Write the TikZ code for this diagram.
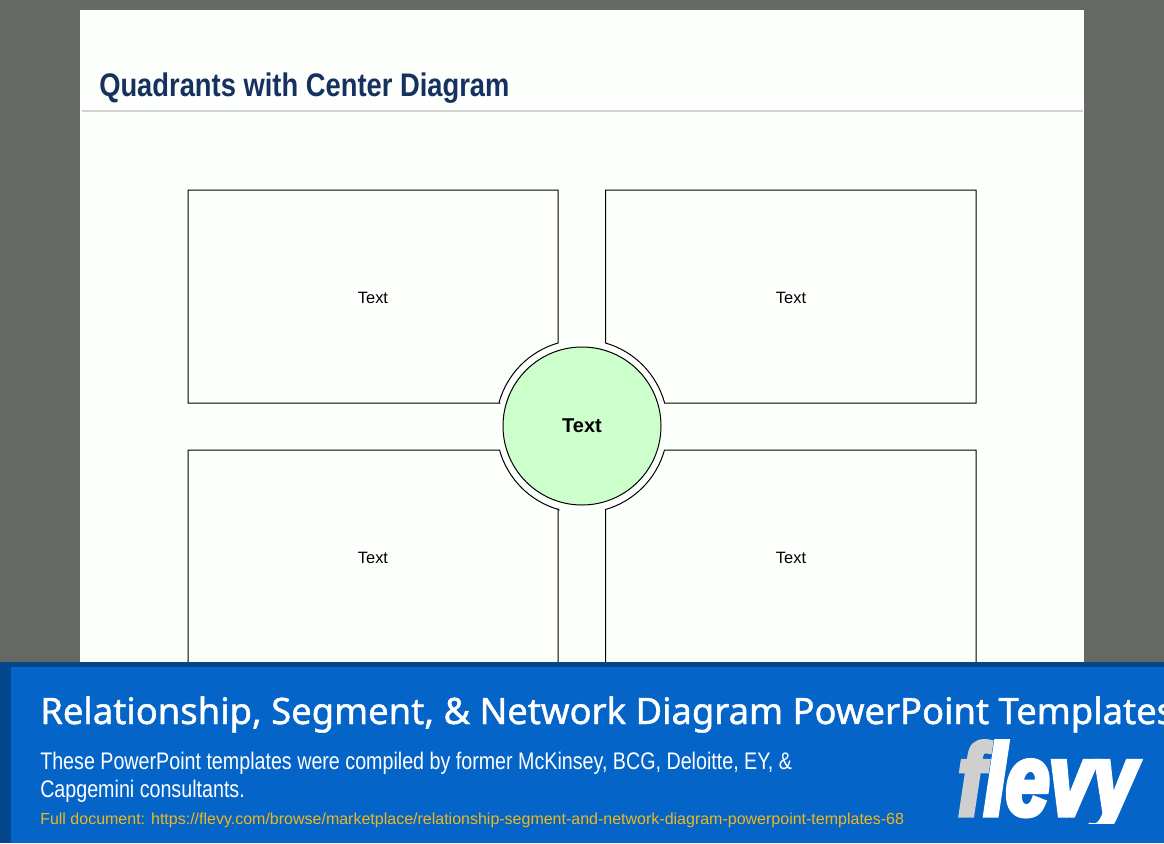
\documentclass[tikz,border=0pt]{standalone}
\usepackage{fontspec}
\setmainfont{Liberation Sans}
\newfontfamily\headfont[FakeStretch=0.837]{Liberation Sans}
\newfontfamily\subfont[FakeStretch=0.82]{Liberation Sans}
\newfontfamily\bannerfont[FakeBold=1.2]{Noto Sans}
\newfontfamily\logofont[FakeBold=5,FakeStretch=0.77]{Liberation Sans}
\definecolor{backgrey}{HTML}{666866}
\definecolor{slidewhite}{HTML}{FDFFFC}
\definecolor{rulegrey}{HTML}{D2D2D2}
\definecolor{titlenavy}{HTML}{14315F}
\definecolor{circlegreen}{HTML}{CCFFCC}
\definecolor{bannerblue}{HTML}{0464C8}
\definecolor{bannerdark}{HTML}{03468C}
\definecolor{linkyellow}{HTML}{EDB81E}
\definecolor{logogrey}{HTML}{CFCFCF}
\tikzset{
  quadbox/.style={draw=black,line width=0.75pt,fill=slidewhite},
  quadtext/.style={font=\fontsize{12.3}{14}\selectfont,text=black},
  slidetitle/.style={anchor=base west,inner sep=0pt,text=titlenavy,font=\headfont\fontsize{24.5}{28}\bfseries\selectfont},
  bannertitle/.style={anchor=base west,inner sep=0pt,text=white,font=\bannerfont\fontsize{27.3}{32}\selectfont},
  bannertext/.style={anchor=base west,inner sep=0pt,text=white,font=\subfont\fontsize{18}{22}\selectfont},
  bannerlink/.style={anchor=base west,inner sep=0pt,text=linkyellow,font=\fontsize{12}{14}\selectfont},
  logotext/.style={anchor=base west,inner sep=0pt,font=\logofont\fontsize{76}{80}\bfseries\itshape\selectfont},
}

\begin{document}
\begin{tikzpicture}[x=0.75pt,y=0.75pt,yscale=-1,xscale=1]
\useasboundingbox (0,0) rectangle (1164,843);

%Background and slide
\fill[backgrey] (0,0) rectangle (1164,843);
\fill[slidewhite] (80,10) rectangle (1084,670);
\draw[rulegrey,line width=1.5pt] (82,110.5) -- (1083,110.5);
\node[slidetitle] (slidehead) at (99,96) {Quadrants with Center Diagram};

%Quadrants
\draw[quadbox] (188,190) -- (558,190) -- (558,343) arc[start angle=253.9,end angle=195.6,radius=86] -- (499.5,403) -- (188,403) -- cycle;
\draw[quadbox] (976,190) -- (605.5,190) -- (605.5,343) arc[start angle=286.1,end angle=344.4,radius=86] -- (664.5,403) -- (976,403) -- cycle;
\draw[quadbox] (188,450) -- (499.5,450) arc[start angle=164.4,end angle=106.1,radius=86] -- (558,509) -- (558,680) -- (188,680) -- cycle;
\draw[quadbox] (976,450) -- (664.5,450) arc[start angle=15.6,end angle=73.9,radius=86] -- (605.5,509) -- (605.5,680) -- (976,680) -- cycle;
\node[quadtext] (texttl) at (373,298) {Text};
\node[quadtext] (texttr) at (791,298) {Text};
\node[quadtext] (textbl) at (373,558) {Text};
\node[quadtext] (textbr) at (791,558) {Text};

%Center circle
\node[circle,draw=black,line width=0.75pt,fill=circlegreen,minimum size=118.5pt,inner sep=0pt,font=\fontsize{15}{18}\bfseries\selectfont] (centre) at (582,426) {Text};

%Banner
\fill[bannerdark] (0,662) rectangle (1164,843);
\fill[bannerblue] (11,667) rectangle (1164,843);
\node[bannertitle] (bannerhead) at (40,724) {Relationship, Segment, \& Network Diagram PowerPoint Templates};
\node[bannertext] (bannerone) at (40,769) {These PowerPoint templates were compiled by former McKinsey, BCG, Deloitte, EY, \&};
\node[bannertext] (bannertwo) at (40,797) {Capgemini consultants.};
\node[bannerlink] (bannerurl) at (40,824) {Full document: https://flevy.com/browse/marketplace/relationship-segment-and-network-diagram-powerpoint-templates-68};
\begin{scope}
\clip (950,730) rectangle (1164,823);
\node[logotext] (flevylogo) at (958,815) {\textcolor{logogrey}{f}\textcolor{white}{levy}};
\end{scope}

\end{tikzpicture}
\end{document}
